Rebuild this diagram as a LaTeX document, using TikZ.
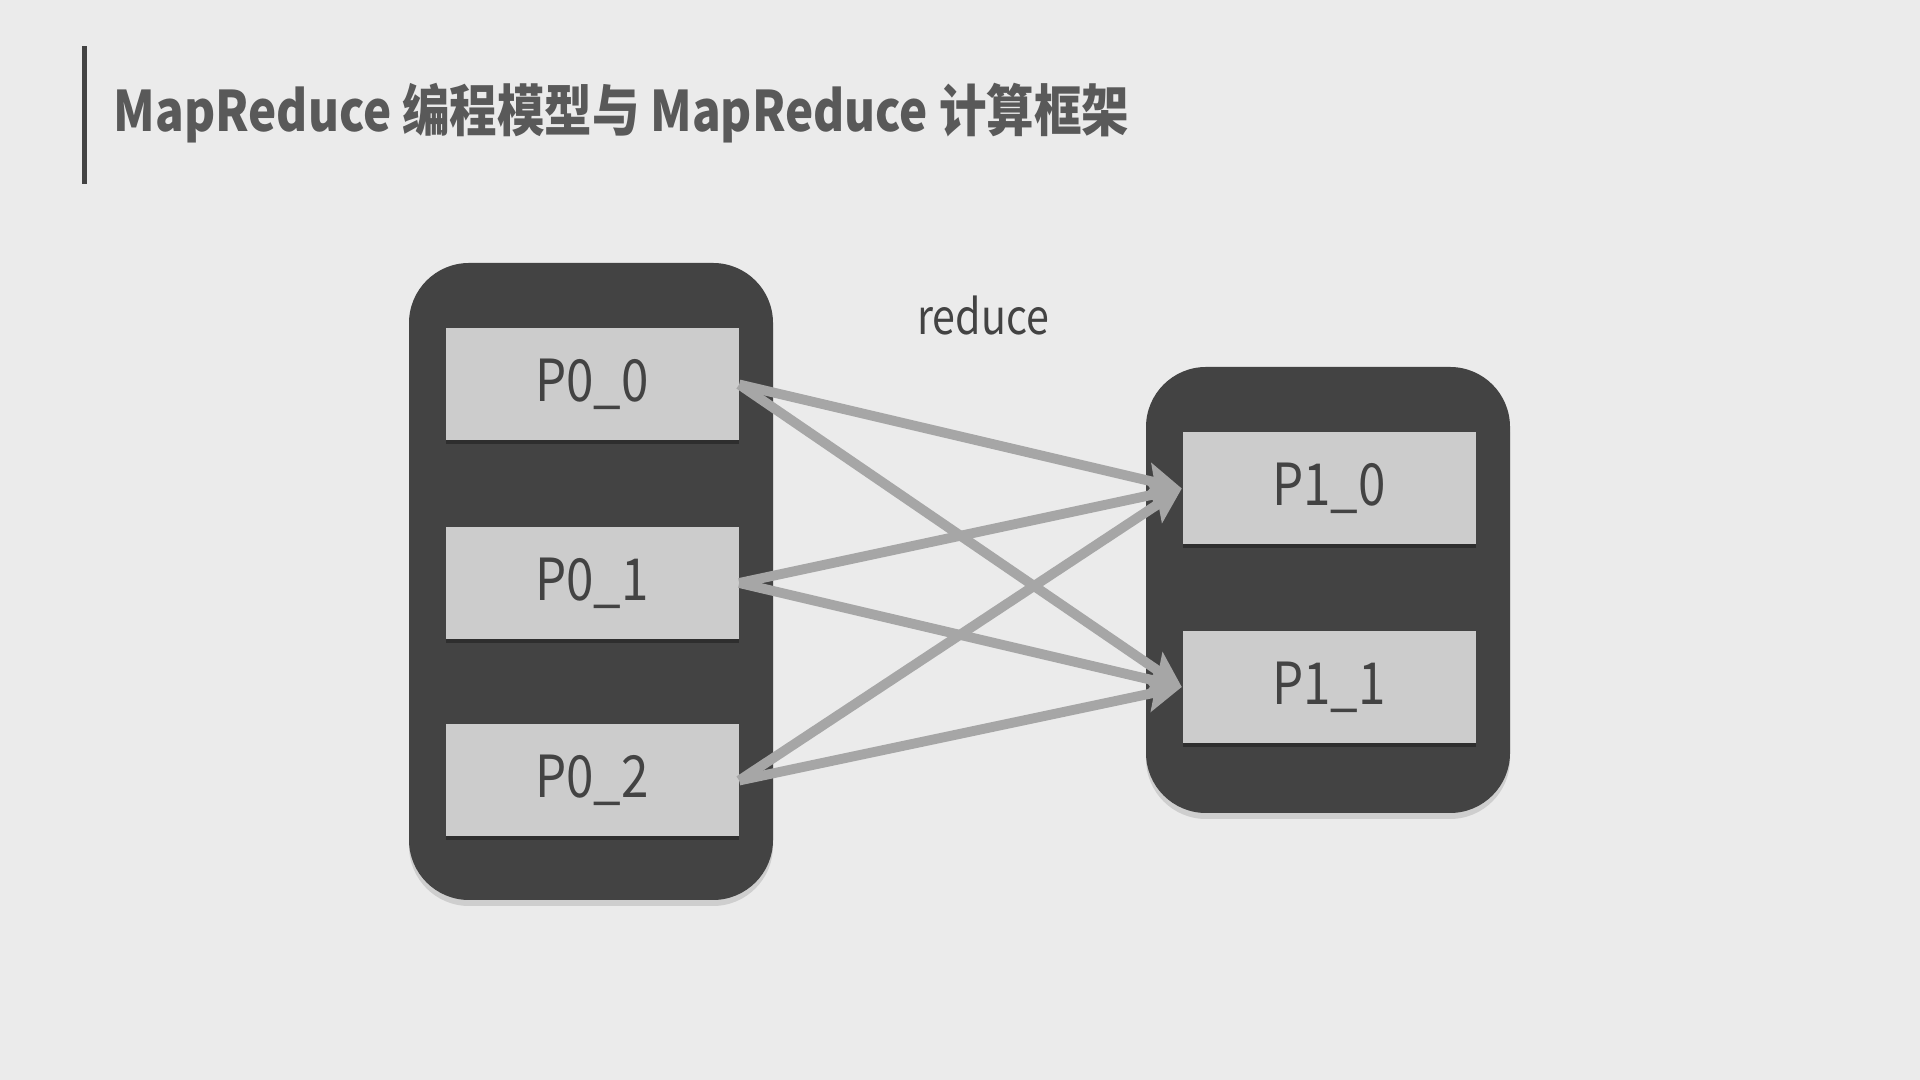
\documentclass[tikz,border=0pt]{standalone}
\usepackage{fontspec}
\setmainfont{Noto Sans CJK SC}[FakeStretch=0.85]
\usepackage{tikz}
\usetikzlibrary{arrows.meta,positioning,shadows}
\definecolor{bgcolor}{RGB}{235,235,235}
\definecolor{groupcolor}{RGB}{67,67,67}
\definecolor{partcolor}{RGB}{204,204,204}
\definecolor{titlecolor}{RGB}{89,89,89}
\definecolor{flowcolor}{RGB}{166,166,166}

\begin{document}
\begin{tikzpicture}[
    group/.style={rectangle, rounded corners=0.6cm, fill=groupcolor, minimum width=3.64cm,
        drop shadow={shadow xshift=0pt, shadow yshift=-0.06cm, opacity=0.12, fill=black}},
    part/.style={rectangle, fill=partcolor, minimum width=2.93cm, minimum height=1.12cm,
        font=\fontsize{16.5}{20}\selectfont, text=groupcolor,
        drop shadow={shadow xshift=0pt, shadow yshift=-0.04cm, opacity=0.3, fill=black}},
    flow/.style={draw=flowcolor, line width=2.8pt, -{Stealth[length=10pt, width=10pt, inset=2pt]}},
]
    % Background
    \fill[bgcolor] (0,0) rectangle (19.2,10.8);
    \useasboundingbox (0,0) rectangle (19.2,10.8);

    % Title
    \draw[groupcolor, line width=1.4pt] (0.845,10.335) -- (0.845,8.96);
    \node[anchor=base west, inner sep=0pt, text=titlecolor, font=\fontsize{15.9}{19}\selectfont\bfseries] (title) at (1.13,9.48) {MapReduce 编程模型与 MapReduce 计算框架};

    % Groups
    \node[group, minimum height=6.37cm] (g0) at (5.91,4.985) {};
    \node[group, minimum height=4.46cm] (g1) at (13.28,4.9) {};

    % Parts
    \foreach \i/\y in {0/6.955, 1/4.97, 2/2.995} {
        \node[part] (p0\i) at (5.92,\y) {P0\_\i};
    }
    \foreach \i/\y in {0/5.915, 1/3.93} {
        \node[part] (p1\i) at (13.29,\y) {P1\_\i};
    }

    % Label
    \node[font=\fontsize{13.8}{17}\selectfont, text=groupcolor] (lbl) at (9.83,7.64) {reduce};

    % Arrows
    \foreach \i in {0,1,2} {
        \foreach \j in {0,1} {
            \draw[flow] (p0\i.east) -- (p1\j.west);
        }
    }
\end{tikzpicture}
\end{document}
